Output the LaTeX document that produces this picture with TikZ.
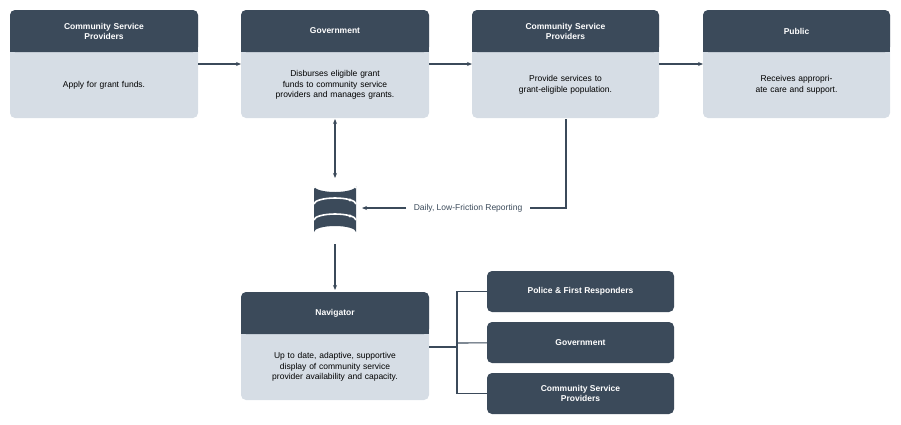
\documentclass[tikz,border=0pt]{standalone}
\usepackage{fontspec}
\setmainfont{Liberation Sans}
\usetikzlibrary{arrows.meta}
\definecolor{dk}{HTML}{3B4A5A}
\definecolor{lt}{HTML}{D6DDE5}
\begin{document}
\begin{tikzpicture}[x=1pt,y=-1pt,
  hd/.style={fill=dk,text=white,font=\fontsize{8.5}{10}\selectfont\bfseries,align=center},
  bd/.style={font=\fontsize{8.5}{10.5}\selectfont,align=center,text=black},
  ar/.style={draw=dk,line width=1.1pt,-{Stealth[length=5pt,width=4pt]}}]
\useasboundingbox (0,0) rectangle (901,424);
\newcommand\card[6]{% name x1 y1 x2 header body
  \fill[lt,rounded corners=5pt] (#2,#3) rectangle (#4,#3+108);
  \fill[dk,rounded corners=5pt] (#2,#3) rectangle (#4,#3+42);
  \fill[dk] (#2,#3+30) rectangle (#4,#3+42);
  \node[hd,fill=none,text width=#4-#2-20] (#1h) at ({(#2+#4)/2},#3+21) {#5};
  \node[bd,text width=#4-#2-40] (#1b) at ({(#2+#4)/2},#3+75) {#6};
  \coordinate (#1) at ({(#2+#4)/2},#3+54);
}
\card{a}{10}{10}{198}{Community Service\\Providers}{Apply for grant funds.}
\card{b}{241}{10}{429}{Government}{Disburses eligible grant\ \ funds to community service providers and manages grants.}
\card{c}{472}{10}{659}{Community Service\\Providers}{Provide services to grant-eligible population.}
\card{d}{703}{10}{890}{Public}{Receives appropriate care and support.}
\card{n}{241}{292}{429}{Navigator}{Up to date, adaptive, supportive display of community service provider availability and capacity.}
\foreach \nm/\y/\t in {p/271/Police \& First Responders,g/322/Government,s/373/Community Service\\Providers}{
  \fill[dk,rounded corners=5pt] (487,\y) rectangle (674,\y+41);
  \node[hd,fill=none] (\nm) at (580.5,\y+20.5) {\t};
}
% database icon
\begin{scope}[shift={(335,0)}]
  \fill[dk] (-21,186) -- (-21,232) arc[start angle=180,end angle=360,x radius=21,y radius=6] -- (21,186) arc[start angle=0,end angle=180,x radius=21,y radius=6] -- cycle;
  \foreach \yy in {188,204,220}
    \draw[white,line width=1.6pt] (-21,\yy) arc[start angle=180,end angle=360,x radius=21,y radius=6];
  \foreach \yy in {200,216,231} \fill[white] (15,\yy) circle (1.6);
\end{scope}
\coordinate (db) at (335,211);
\coordinate (dbt) at (335,178);
\coordinate (dbb) at (335,244);
\coordinate (dbr) at (362,208);
% connectors
\coordinate (a1) at (198,64); \coordinate (b1) at (241,64);
\coordinate (b2) at (429,64); \coordinate (c1) at (472,64);
\coordinate (c2) at (659,64); \coordinate (d1) at (703,64);
\draw[ar] (a1) -- (b1);
\draw[ar] (b2) -- (c1);
\draw[ar] (c2) -- (d1);
\coordinate (bb) at (335,119);
\draw[ar,{Stealth[length=5pt,width=4pt]}-{Stealth[length=5pt,width=4pt]}] (bb) -- (dbt);
\coordinate (cb) at (566,119);
\node[font=\fontsize{8.5}{10}\selectfont,text=dk] (lab) at (468,208) {Daily, Low-Friction Reporting};
\draw[dk,line width=1.1pt] (cb) |- ([xshift=4pt]lab.east);
\draw[ar] ([xshift=-4pt]lab.west) -- (dbr);
\coordinate (nt) at (335,290);
\draw[ar] (dbb) -- (nt);
\coordinate (nr) at (429,347);
\coordinate (br) at (457,347);
\draw[dk,line width=1.1pt] (nr) -- (br);
\draw[ar] (br) |- (p.west);
\draw[ar] (br) -- (457,343) -- (g.west);
\draw[ar] (br) |- (s.west);
\end{tikzpicture}
\end{document}
